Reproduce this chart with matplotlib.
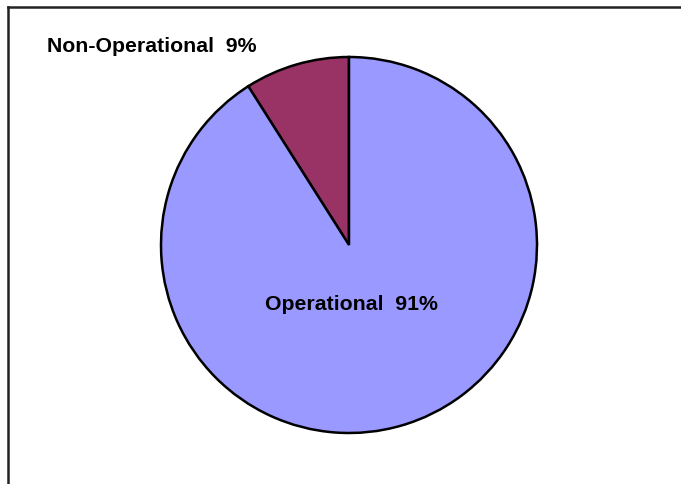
import matplotlib
matplotlib.use("Agg")
import matplotlib.pyplot as plt
from matplotlib.lines import Line2D

# data
categories = ["Non-Operational", "Operational"]
shares = [9, 91]
colors = ["#993366", "#9999FF"]

W, H = 681, 485
fig = plt.figure(figsize=(W / 100, H / 100), dpi=100)
fig.patch.set_facecolor("white")

# chart frame (top and left edges visible)
fig.add_artist(Line2D([8 / W, 1.0], [1 - 8 / H, 1 - 8 / H], color="#222222", lw=1.8))
fig.add_artist(Line2D([8 / W, 8 / W], [0.0, 1 - 8 / H], color="#222222", lw=1.8))

ax = fig.add_axes([0, 0, 1, 1])
ax.pie(shares, colors=colors, startangle=90, counterclock=True,
       center=(349, H - 246), radius=188,
       wedgeprops=dict(edgecolor="black", linewidth=1.8))
ax.set_xlim(0, W)
ax.set_ylim(0, H)
ax.set_aspect("auto")
ax.axis("off")

ax.text(152, H - 47, "{}  {}%".format(categories[0], shares[0]),
        ha="center", va="center", fontsize=15.3, fontweight="bold",
        family="Liberation Sans")
ax.text(351, H - 304, "{}  {}%".format(categories[1], shares[1]),
        ha="center", va="center", fontsize=15.3, fontweight="bold",
        family="Liberation Sans")

fig.savefig("out.png", dpi=100)
